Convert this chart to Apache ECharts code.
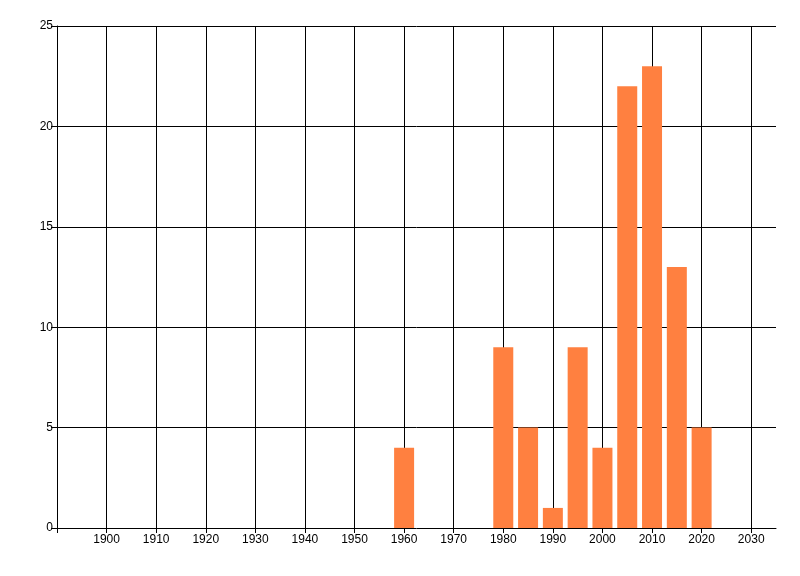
<!DOCTYPE html>
<html>
<head>
<meta charset="utf-8">
<script src="https://cdn.jsdelivr.net/npm/echarts@6/dist/echarts.min.js"></script>
<style>
  html, body { margin: 0; padding: 0; background: #fff; }
  #chart { width: 800px; height: 576px; }
</style>
</head>
<body>
<div id="chart"></div>
<script>
// years (bar centres) and counts
var years = [1960, 1980, 1985, 1990, 1995, 2000, 2005, 2010, 2015, 2020];
var counts = [4, 9, 5, 1, 9, 4, 22, 23, 13, 5];

var chart = echarts.init(document.getElementById("chart"));
var font = { fontFamily: "Liberation Sans", fontSize: 12, color: "#000" };

chart.setOption({
  animation: false,
  grid: { left: 57, right: 24, top: 26, bottom: 48 },
  xAxis: {
    type: "value",
    min: 1890,
    max: 2035,
    interval: 10,
    axisLine: { show: true, lineStyle: { color: "#000", width: 1 } },
    axisTick: { show: true, length: 5, lineStyle: { color: "#000" } },
    splitLine: { show: true, showMinLine: false, showMaxLine: false, lineStyle: { color: "#000", width: 1 } },
    axisLabel: Object.assign({
      margin: 6,
      formatter: function (v) { return v === 1890 ? "" : String(v); }
    }, font)
  },
  yAxis: {
    type: "value",
    min: 0,
    max: 25,
    interval: 5,
    axisLine: { show: true, lineStyle: { color: "#000", width: 1 } },
    axisTick: { show: true, length: 6, lineStyle: { color: "#000" } },
    splitLine: { show: true, showMinLine: false, lineStyle: { color: "#000", width: 1 } },
    axisLabel: Object.assign({ margin: 4 }, font)
  },
  series: [
    {
      type: "bar",
      barWidth: 20,
      itemStyle: { color: "#ff8040" },
      data: years.map(function (y, i) { return [y, counts[i]]; })
    }
  ]
});
</script>
</body>
</html>
